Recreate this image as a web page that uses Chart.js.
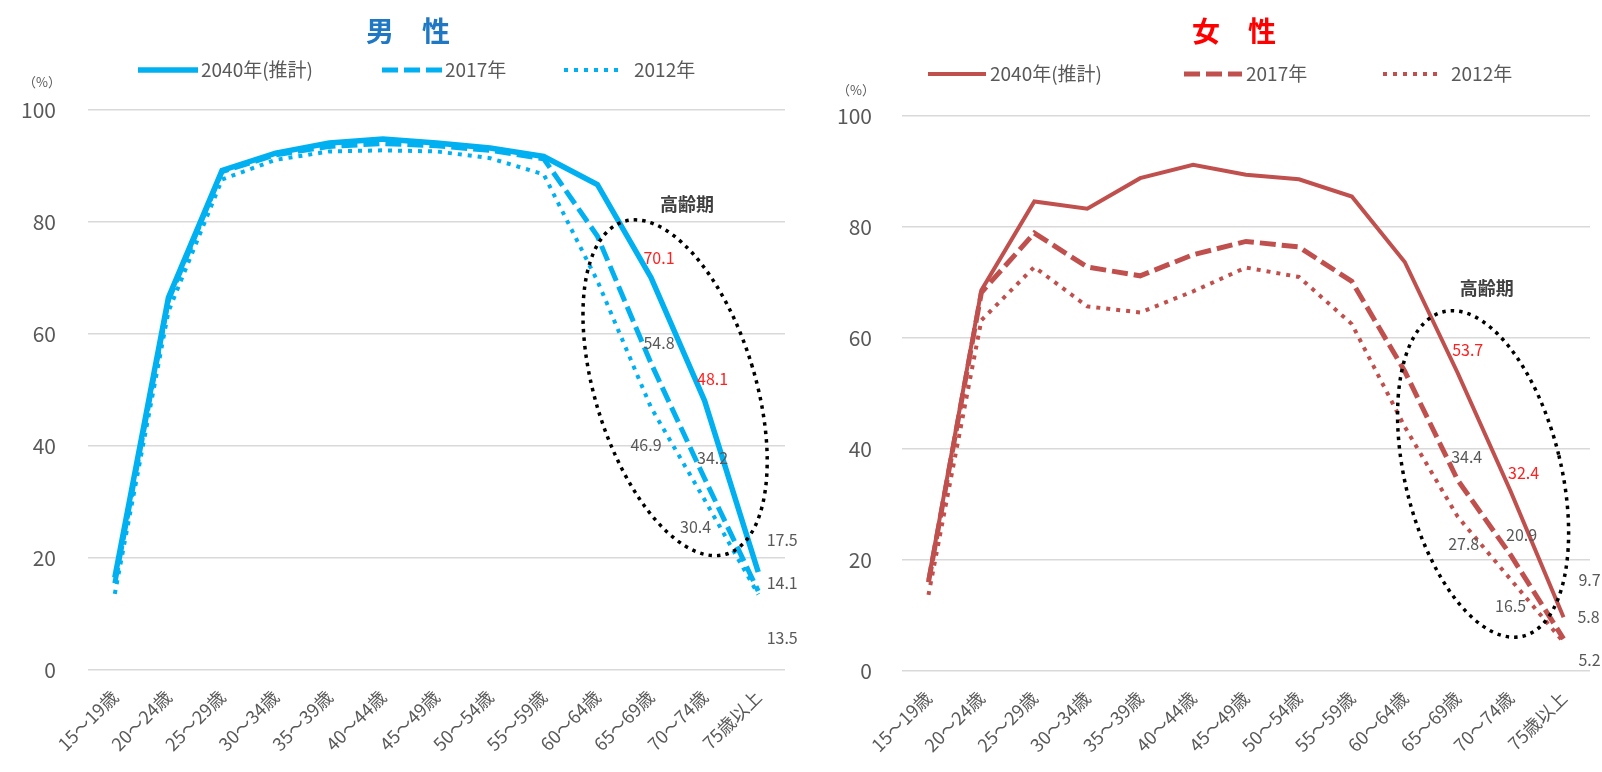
<!DOCTYPE html>
<html>
<head>
<meta charset="utf-8">
<script src="https://cdn.jsdelivr.net/npm/chart.js@4.4.1/dist/chart.umd.min.js"></script>
<style>
  html, body { margin: 0; padding: 0; background: #fff; }
  #wrap { position: relative; width: 1602px; height: 772px; }
  #maleBox { position: absolute; left: 0; top: 0; width: 800px; height: 772px; }
  #femaleBox { position: absolute; left: 800px; top: 0; width: 802px; height: 772px; }
</style>
</head>
<body>
<div id="wrap">
  <div id="maleBox"><canvas id="maleChart" width="800" height="772"></canvas></div>
  <div id="femaleBox"><canvas id="femaleChart" width="802" height="772"></canvas></div>
</div>
<script>
'use strict';

// categories and values (labour force participation, %)
const ageGroups = ['15～19歳', '20～24歳', '25～29歳', '30～34歳', '35～39歳', '40～44歳', '45～49歳',
  '50～54歳', '55～59歳', '60～64歳', '65～69歳', '70～74歳', '75歳以上'];
const seriesNames = ['2040年(推計)', '2017年', '2012年'];
const yTicks = [0, 20, 40, 60, 80, 100];

const male2040 = [16.5, 66.5, 89.2, 92.3, 94.1, 94.8, 94.1, 93.2, 91.7, 86.7, 70.1, 48.1, 17.5];
const male2017 = [15.5, 66.0, 89.0, 92.0, 93.5, 94.0, 93.6, 92.8, 91.3, 77.5, 54.8, 34.2, 14.1];
const male2012 = [13.6, 64.0, 87.6, 91.1, 92.6, 92.8, 92.6, 91.4, 88.5, 69.5, 46.9, 30.4, 13.5];

const female2040 = [16.4, 68.6, 84.6, 83.3, 88.8, 91.2, 89.4, 88.6, 85.5, 73.7, 53.7, 32.4, 9.7];
const female2017 = [16.0, 68.2, 78.9, 72.8, 71.2, 75.0, 77.4, 76.4, 70.2, 54.0, 34.4, 20.9, 5.8];
const female2012 = [13.7, 63.2, 72.8, 65.7, 64.6, 68.4, 72.7, 71.0, 62.5, 44.0, 27.8, 16.5, 5.2];

// points that carry a value label
const labelledIdx = [10, 11, 12];

const FONT = '"Noto Sans CJK JP", "Noto Sans", sans-serif';
const GREY = '#595959';
const RED_TEXT = '#FF2020';

// line styles for the three series
const lineStyles = [
  { dash: [] },
  { dash: [16, 6] },
  { dash: [4, 6] }
];

// label offsets from each point, per series [dx, dy]
const maleLabelOffsets = [
  [[8, -20], [8, -22], [24, -32]],
  [[8, -20], [8, -21], [24, -8]],
  [[-5, 38], [-9, 27], [24, 44]]
];
const femaleLabelOffsets = [
  [[10, -23], [13, -18], [26, -37]],
  [[9, -23], [11, -20], [25, -22]],
  [[6, 27], [0, 26], [26, 18]]
];

function makeDatasets(values, color, widths) {
  return values.map((v, i) => ({
    label: seriesNames[i],
    data: v,
    borderColor: color,
    backgroundColor: color,
    borderWidth: widths[i],
    borderDash: lineStyles[i].dash,
    borderCapStyle: 'butt',
    pointRadius: 0,
    tension: 0,
    fill: false
  }));
}

function decorPlugin(opt) {
  return {
    id: 'decor',
    afterDatasetsDraw(chart) {
      const ctx = chart.ctx;
      const xs = chart.scales.x;
      const ys = chart.scales.y;
      ctx.save();

      // dotted ellipse around the senior age groups
      const cx = xs.getPixelForValue(opt.ring.idx);
      const cy = ys.getPixelForValue(opt.ring.val);
      ctx.beginPath();
      ctx.setLineDash([3.5, 5]);
      ctx.lineWidth = 3.5;
      ctx.strokeStyle = '#000';
      ctx.ellipse(cx, cy, opt.ring.rx, opt.ring.ry, opt.ring.rot, 0, Math.PI * 2);
      ctx.stroke();
      ctx.setLineDash([]);

      ctx.fillStyle = '#404040';
      ctx.font = 'bold 18px ' + FONT;
      ctx.textAlign = 'center';
      ctx.textBaseline = 'middle';
      ctx.fillText('高齢期', xs.getPixelForValue(opt.tag.idx), ys.getPixelForValue(opt.tag.val));

      // value labels
      ctx.font = '16px ' + FONT;
      chart.data.datasets.forEach((ds, di) => {
        const meta = chart.getDatasetMeta(di);
        labelledIdx.forEach((idx, k) => {
          const pt = meta.data[idx];
          const off = opt.offsets[di][k];
          ctx.fillStyle = (di === 0 && idx < 12) ? RED_TEXT : GREY;
          ctx.fillText(ds.data[idx].toFixed(1), pt.x + off[0], pt.y + off[1]);
        });
      });
      ctx.restore();
    },
    afterDraw(chart) {
      const ctx = chart.ctx;
      ctx.save();
      // title
      ctx.fillStyle = opt.titleColor;
      ctx.font = 'bold 28px ' + FONT;
      ctx.textAlign = 'center';
      ctx.textBaseline = 'middle';
      ctx.fillText(opt.title, opt.titleX, 31);

      // (%) unit
      ctx.fillStyle = GREY;
      ctx.font = '13px ' + FONT;
      ctx.fillText('（%）', opt.unitX, opt.unitY);

      // legend
      ctx.font = '19px ' + FONT;
      ctx.textAlign = 'left';
      chart.data.datasets.forEach((ds, i) => {
        const x0 = opt.legendX[i];
        ctx.beginPath();
        ctx.strokeStyle = ds.borderColor;
        ctx.lineWidth = ds.borderWidth;
        ctx.setLineDash(ds.borderDash);
        ctx.moveTo(x0, opt.legendY);
        ctx.lineTo(x0 + opt.sampleLen, opt.legendY);
        ctx.stroke();
        ctx.setLineDash([]);
        ctx.fillStyle = GREY;
        ctx.fillText(ds.label, x0 + opt.sampleLen + opt.textGap[i], opt.legendY);
      });
      ctx.restore();
    }
  };
}

function makeChart(canvasId, datasets, layout, plugOpt) {
  return new Chart(document.getElementById(canvasId), {
    type: 'line',
    data: { labels: ageGroups, datasets: datasets },
    options: {
      responsive: false,
      animation: false,
      layout: { padding: { top: layout.top, right: layout.right, left: 0, bottom: 0 } },
      plugins: { legend: { display: false }, title: { display: false }, tooltip: { enabled: false } },
      scales: {
        x: {
          offset: true,
          grid: { display: false },
          border: { display: false },
          ticks: {
            color: GREY,
            font: { family: FONT, size: 18 },
            maxRotation: 45,
            minRotation: 45,
            autoSkip: false,
            padding: 8
          },
          afterFit: s => { s.height = layout.xHeight; }
        },
        y: {
          min: 0,
          max: 100,
          afterBuildTicks: s => { s.ticks = yTicks.map(v => ({ value: v })); },
          grid: { color: '#D9D9D9', lineWidth: 1.5, drawTicks: false },
          border: { display: false },
          ticks: {
            color: GREY,
            font: { family: FONT, size: 21 },
            padding: layout.tickPad
          },
          afterFit: s => { s.width = layout.yWidth; }
        }
      }
    },
    plugins: [decorPlugin(plugOpt)]
  });
}

makeChart('maleChart',
  makeDatasets([male2040, male2017, male2012], '#00B0F0', [5.5, 5, 4]),
  { top: 110, right: 15, xHeight: 102, yWidth: 88, tickPad: 32 },
  {
    title: '男　性', titleColor: '#1F78C4', titleX: 408,
    unitX: 42, unitY: 82,
    legendX: [138, 382, 564], legendY: 70, sampleLen: 60, textGap: [3, 3, 10],
    ring: { idx: 10.45, val: 50.4, rx: 80, ry: 174, rot: -0.30 },
    tag: { idx: 10.67, val: 83.1 },
    offsets: maleLabelOffsets
  });

makeChart('femaleChart',
  makeDatasets([female2040, female2017, female2012], '#C0504D', [4, 5, 4]),
  { top: 116, right: 12, xHeight: 101, yWidth: 102, tickPad: 30 },
  {
    title: '女　性', titleColor: '#FF0000', titleX: 434,
    unitX: 56, unitY: 90,
    legendX: [128, 384, 583], legendY: 74, sampleLen: 58, textGap: [4, 4, 10],
    ring: { idx: 10.48, val: 35.5, rx: 78, ry: 167, rot: -0.24 },
    tag: { idx: 10.55, val: 69.0 },
    offsets: femaleLabelOffsets
  });
</script>
</body>
</html>
